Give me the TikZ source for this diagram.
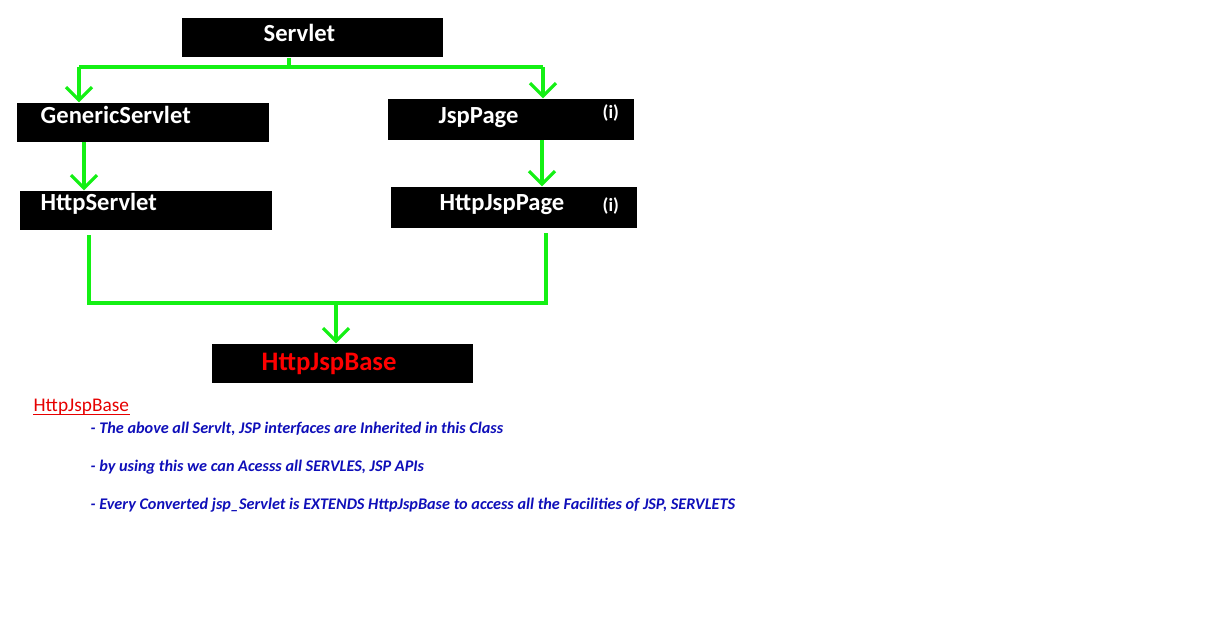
\documentclass[tikz,border=0pt]{standalone}
\usepackage{fontspec}
\setmainfont{Carlito}
\usetikzlibrary{arrows.meta}
\definecolor{linkgreen}{RGB}{20,240,20}
\definecolor{notered}{RGB}{230,0,0}
\definecolor{noteblue}{RGB}{15,15,185}
\begin{document}
\begin{tikzpicture}[
    cls/.style={fill=black, draw=none, inner sep=0pt},
    clsname/.style={anchor=base west, inner sep=0pt, text=white, font=\fontsize{7}{8}\selectfont\bfseries},
    iface/.style={anchor=base west, inner sep=0pt, text=white, font=\fontsize{5.3}{6}\selectfont\bfseries},
    wire/.style={linkgreen, line width=0.9pt},
    inherit/.style={wire, -{Straight Barb[length=1.3mm, width=2.6mm, line width=0.9pt]}},
    note/.style={anchor=base west, inner sep=0pt, text=noteblue, font=\fontsize{4.62}{5.5}\selectfont\bfseries\itshape}
  ]
  \useasboundingbox (0,0) rectangle (12.16,-6.29);

  % class boxes
  \node[cls, minimum width=2.61cm, minimum height=0.39cm] (servlet) at (3.125,-0.375) {};
  \node[cls, minimum width=2.52cm, minimum height=0.39cm] (generic) at (1.43,-1.225) {};
  \node[cls, minimum width=2.46cm, minimum height=0.41cm] (jsppage) at (5.11,-1.195) {};
  \node[cls, minimum width=2.52cm, minimum height=0.39cm] (httpservlet) at (1.46,-2.105) {};
  \node[cls, minimum width=2.46cm, minimum height=0.41cm] (httpjsppage) at (5.14,-2.075) {};
  \node[cls, minimum width=2.61cm, minimum height=0.39cm] (base) at (3.425,-3.635) {};

  \node[clsname] (servletname) at (2.63,-0.41) {Servlet};
  \node[clsname] (genericname) at (0.40,-1.23) {GenericServlet};
  \node[clsname] (jsppagename) at (4.38,-1.23) {JspPage};
  \node[iface] (jsppagei) at (6.02,-1.185) {(i)};
  \node[clsname] (httpservletname) at (0.40,-2.10) {HttpServlet};
  \node[clsname] (httpjsppagename) at (4.39,-2.10) {HttpJspPage};
  \node[iface] (httpjsppagei) at (6.02,-2.11) {(i)};
  \node[clsname, text=red, font=\fontsize{7.6}{8}\selectfont\bfseries] (basename) at (2.61,-3.70) {HttpJspBase};

  % connectors
  \coordinate (topsplit) at (2.89,-0.67);
  \coordinate (topleft) at (0.79,-0.67);
  \coordinate (topright) at (5.43,-0.67);
  \draw[wire] (servlet.south -| topsplit) -- (topsplit);
  \draw[wire] (topleft) -- (topright);
  \draw[inherit] (topleft) -- (topleft |- generic.north);
  \draw[inherit] (topright) -- (topright |- jsppage.north);

  \coordinate (leftdown) at (0.84,-1.42);
  \coordinate (rightdown) at (5.42,-1.40);
  \draw[inherit] (leftdown) -- (leftdown |- httpservlet.north);
  \draw[inherit] (rightdown) -- (rightdown |- httpjsppage.north);

  \coordinate (botleft) at (0.89,-3.03);
  \coordinate (botright) at (5.48,-3.03);
  \coordinate (botsplit) at (3.36,-3.03);
  \draw[wire] (0.89,-2.35) -- (botleft) -- (botright);
  \draw[wire] (5.46,-2.33) -- (5.46,-3.03);
  \draw[inherit] (botsplit) -- (botsplit |- base.north);

  % notes
  \node[anchor=base west, inner sep=0pt, text=notered, font=\fontsize{5.5}{6}\selectfont] (notetitle) at (0.33,-4.11) {HttpJspBase};
  \draw[notered, line width=0.5pt] ([yshift=-0.035cm]notetitle.base west) -- ([yshift=-0.035cm]notetitle.base east);
  \node[note] (note1) at (0.90,-4.33) {- The above all Servlt, JSP interfaces are Inherited in this Class};
  \node[note] (note2) at (0.90,-4.71) {- by using this we can Acesss all SERVLES, JSP APIs};
  \node[note] (note3) at (0.90,-5.09) {- Every Converted jsp\_Servlet is EXTENDS HttpJspBase to access all the Facilities of JSP, SERVLETS};
\end{tikzpicture}
\end{document}
